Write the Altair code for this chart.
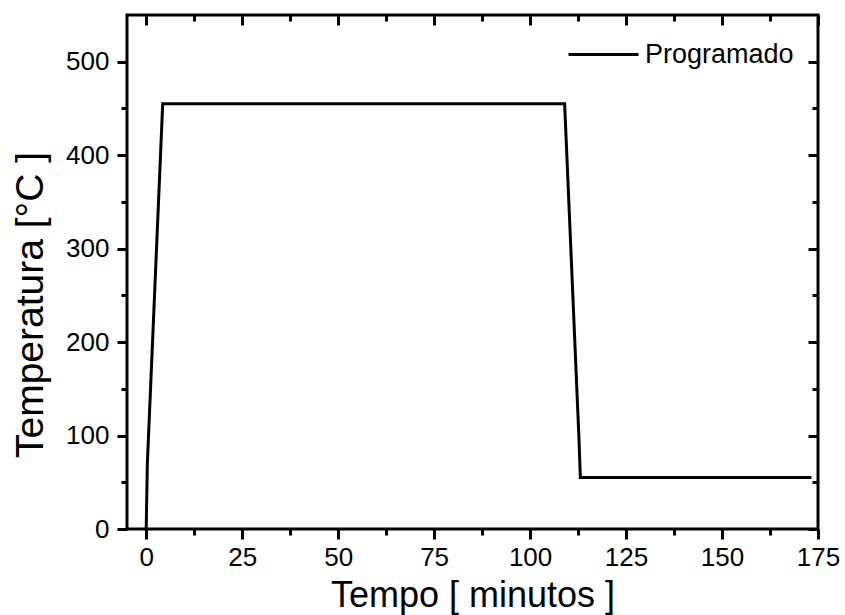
import altair as alt
import pandas as pd

# data
tempo = [0.0, 0.3, 4.3, 109.0, 112.7, 113.1, 173.3]
temperatura = [0, 70, 455, 455, 100, 55, 55]
serie = "Programado"

x_major = [0, 25, 50, 75, 100, 125, 150, 175]
x_minor = [12.5, 37.5, 62.5, 87.5, 112.5, 137.5, 162.5]
y_major = [0, 100, 200, 300, 400, 500]
y_minor = [50, 150, 250, 350, 450]

df = pd.DataFrame({"tempo": tempo, "temp": temperatura, "serie": [serie] * len(tempo)})

FONT = "Liberation Sans"
W, H = 691, 514

xs = alt.Scale(domain=[-5, 175], nice=False, zero=False)
ys = alt.Scale(domain=[0, 550], nice=False, zero=False)

common = dict(grid=False, domain=False, tickColor="black", tickWidth=3,
              labelFont=FONT, labelColor="black", labelFlush=False)


def blank_axis(orient, values, size, offset):
    return alt.Axis(orient=orient, values=values, tickSize=size, offset=offset,
                    labels=False, title=None, **common)


base = alt.Chart(df)

main = base.mark_line(strokeWidth=3, strokeJoin="miter").encode(
    x=alt.X("tempo:Q", scale=xs,
            axis=alt.Axis(orient="bottom", values=x_major, tickSize=10,
                          labelFontSize=26, labelPadding=5,
                          title="Tempo [ minutos ]", titleFont=FONT,
                          titleFontSize=36, titleFontWeight="normal",
                          titleColor="black", titleX=345.5, titleY=77,
                          titleBaseline="alphabetic", titleAlign="center",
                          **common)),
    y=alt.Y("temp:Q", scale=ys,
            axis=alt.Axis(orient="left", values=y_major, tickSize=10,
                          labelFontSize=26, labelPadding=8,
                          title="Temperatura [°C ]", titleFont=FONT,
                          titleFontSize=39, titleFontWeight="normal",
                          titleColor="black", titleAngle=270,
                          titleX=-85, titleY=289.5, titleAlign="center",
                          titleBaseline="alphabetic",
                          **common)),
    stroke=alt.Stroke("serie:N", scale=alt.Scale(range=["black"]),
                      legend=alt.Legend(title=None, orient="none",
                                        legendX=440, legendY=3,
                                        symbolType="stroke", symbolSize=4900,
                                        symbolStrokeWidth=3,
                                        symbolStrokeColor="black",
                                        labelFont=FONT, labelFontSize=27,
                                        labelColor="black", labelOffset=5,
                                        padding=0)),
)


def ghost(xaxis, yaxis):
    return base.mark_line(opacity=0).encode(
        x=alt.X("tempo:Q", scale=xs, axis=xaxis),
        y=alt.Y("temp:Q", scale=ys, axis=yaxis),
    )


layers = [
    main,
    ghost(blank_axis("bottom", x_minor, 6, 0), blank_axis("left", y_minor, 6, 0)),
    ghost(blank_axis("top", x_major, 10, -10), blank_axis("right", y_major, 10, -10)),
    ghost(blank_axis("top", x_minor, 6, -6), blank_axis("right", y_minor, 6, -6)),
]

chart = alt.layer(*layers).resolve_axis(x="independent", y="independent").properties(
    width=W, height=H,
    autosize=alt.AutoSizeParams(type="none"),
    padding={"left": 127, "top": 15, "right": 27, "bottom": 86},
    background="white",
).configure_view(stroke="black", strokeWidth=3)

chart.save("out.html", embed_options={"renderer": "svg", "actions": False})
